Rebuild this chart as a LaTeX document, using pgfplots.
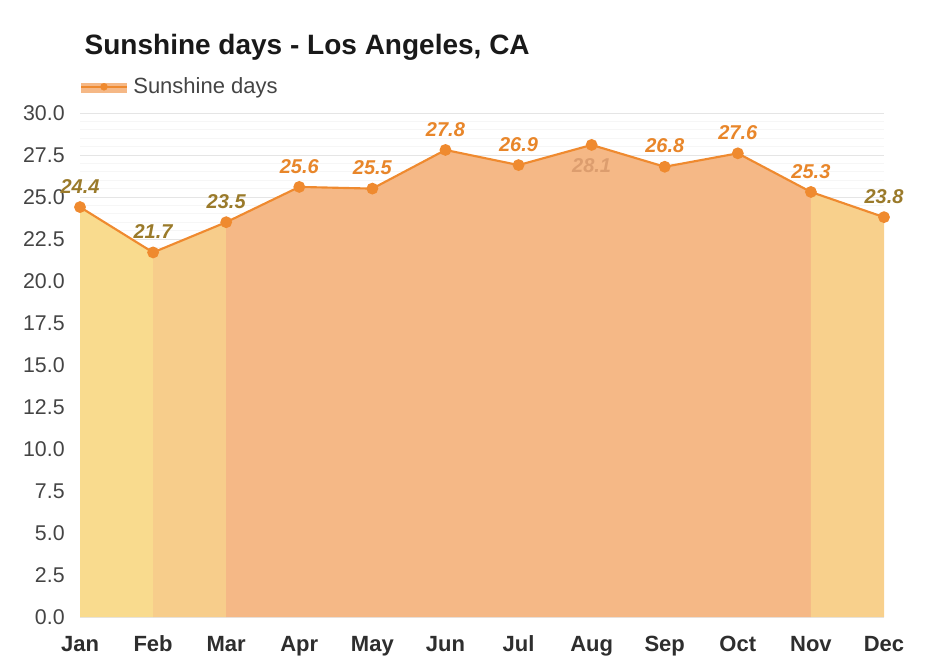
\documentclass[border=0pt]{standalone}
\usepackage{fontspec}
\setmainfont{Liberation Sans}
\usepackage{pgfplots}
\pgfplotsset{compat=1.18}

\definecolor{fillA}{HTML}{F9DB8E}
\definecolor{fillB}{HTML}{F7CD8B}
\definecolor{fillC}{HTML}{F5B886}
\definecolor{fillD}{HTML}{F8D08C}
\definecolor{linec}{HTML}{EF8A2F}
\definecolor{olivelab}{HTML}{9A7A2A}
\definecolor{orangelab}{HTML}{E8862A}
\definecolor{auglab}{HTML}{DC9D6E}
\definecolor{ticktext}{HTML}{444444}
\definecolor{monthtext}{HTML}{2E2E2E}

\begin{document}
\begin{tikzpicture}
\begin{axis}[
    at={(0,0)}, anchor=south west,
    scale only axis,
    width=603pt, height=378pt,
    xmin=0, xmax=11, ymin=0, ymax=30,
    clip=false,
    axis line style={draw=none},
    major tick length=0pt, minor tick length=0pt,
    xtick={0,...,11},
    xticklabels={Jan,Feb,Mar,Apr,May,Jun,Jul,Aug,Sep,Oct,Nov,Dec},
    ytick={0,2.5,...,30},
    minor y tick num=4,
    ymajorgrids, yminorgrids,
    grid style={line width=0.6pt, draw=gray!20},
    minor grid style={line width=0.5pt, draw=gray!7},
    /pgf/number format/assume math mode=true,
    yticklabel style={/pgf/number format/.cd, fixed, fixed zerofill, precision=1,
        /tikz/.cd, font=\fontsize{16}{18}\selectfont, text=ticktext, xshift=-8pt},
    xticklabel style={font=\fontsize{16.5}{18}\selectfont\bfseries, text=monthtext,
        text height=12pt, text depth=3pt, yshift=-10pt},
    legend style={draw=none, fill=none, at={(rel axis cs:0,1.052)}, anchor=west,
        inner sep=0pt, font=\fontsize{16.5}{18}\selectfont, text=ticktext},
    legend cell align=left,
]
% shaded areas
\addplot[fill=fillA, draw=none, forget plot] coordinates {(0,24.4) (1,21.7)} \closedcycle;
\addplot[fill=fillB, draw=none, forget plot] coordinates {(1,21.7) (2,23.5)} \closedcycle;
\addplot[fill=fillC, draw=none, forget plot] coordinates {(2,23.5) (3,25.6) (4,25.5) (5,27.8) (6,26.9) (7,28.1) (8,26.8) (9,27.6) (10,25.3)} \closedcycle;
\addplot[fill=fillD, draw=none, forget plot] coordinates {(10,25.3) (11,23.8)} \closedcycle;

% line
\addplot[linec, line width=1.6pt, mark=*, mark size=3.6pt, mark options={fill=linec, draw=linec}, forget plot]
coordinates {(0,24.4) (1,21.7) (2,23.5) (3,25.6) (4,25.5) (5,27.8) (6,26.9) (7,28.1) (8,26.8) (9,27.6) (10,25.3) (11,23.8)};

% data labels
\addplot[draw=none, mark=none, forget plot, nodes near coords,
    every node near coord/.append style={anchor=south, inner sep=0pt, yshift=10pt,
        font=\fontsize{15}{17}\selectfont\bfseries\itshape, text=olivelab},
    nodes near coords={\pgfmathprintnumber[fixed,fixed zerofill,precision=1]{\pgfplotspointmeta}}]
coordinates {(0,24.4) (1,21.7) (2,23.5) (11,23.8)};
\addplot[draw=none, mark=none, forget plot, nodes near coords,
    every node near coord/.append style={anchor=south, inner sep=0pt, yshift=10pt,
        font=\fontsize{15}{17}\selectfont\bfseries\itshape, text=orangelab},
    nodes near coords={\pgfmathprintnumber[fixed,fixed zerofill,precision=1]{\pgfplotspointmeta}}]
coordinates {(3,25.6) (4,25.5) (5,27.8) (6,26.9) (8,26.8) (9,27.6) (10,25.3)};
\addplot[draw=none, mark=none, forget plot, nodes near coords,
    every node near coord/.append style={anchor=north, inner sep=0pt, yshift=-10pt,
        font=\fontsize{15}{17}\selectfont\bfseries\itshape, text=auglab},
    nodes near coords={\pgfmathprintnumber[fixed,fixed zerofill,precision=1]{\pgfplotspointmeta}}]
coordinates {(7,28.1)};

% legend
\addlegendimage{legend image code/.code={
    \fill[fillC] (0pt,-4pt) rectangle (34pt,3pt);
    \draw[linec, line width=1.6pt] (0pt,0pt) -- (34pt,0pt);
    \fill[linec] (17pt,0pt) circle (2.6pt);
    \path[draw=none, fill=none] (0pt,0pt) rectangle (37pt,0.1pt);
}}
\addlegendentry{Sunshine days}
\end{axis}
\node[anchor=base west, font=\fontsize{21}{25}\selectfont\bfseries, text=black!90] at (0pt,421.5pt) {Sunshine days - Los Angeles, CA};
\pgfresetboundingbox
\path[use as bounding box] (-60pt,-38.25pt) rectangle (640.5pt,462.75pt);
\end{tikzpicture}
\end{document}
